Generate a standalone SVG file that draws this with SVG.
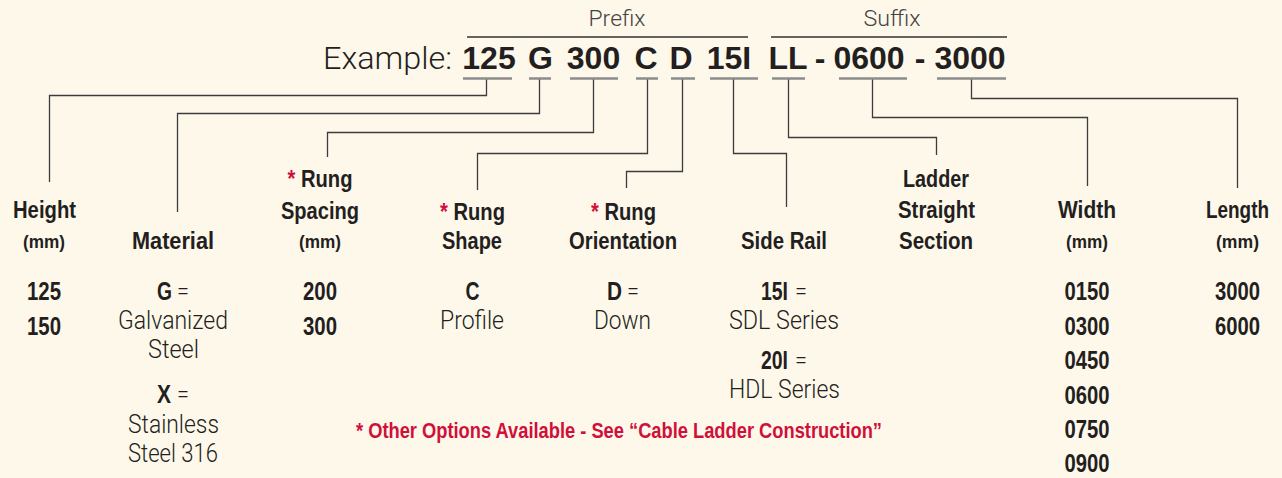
<svg xmlns="http://www.w3.org/2000/svg" width="1282" height="478" viewBox="0 0 1282 478">
<style>
text{font-family:"Liberation Sans",Arial,sans-serif;fill:#231f20}
.b{font-weight:bold}
.lt{font-family:Roboto,"Liberation Sans",Arial,sans-serif;font-weight:300}
.lbl{font-size:23px;font-weight:bold;text-anchor:middle}
.mm{font-size:18px;font-weight:bold;text-anchor:middle}
.num{font-size:25.5px;font-weight:bold;text-anchor:middle}
.key{font-size:25.5px;font-weight:bold}
.eq{font-size:26px;font-family:Roboto,"Liberation Sans",Arial,sans-serif;font-weight:300}
.reg{font-size:26px;text-anchor:middle;font-family:Roboto,"Liberation Sans",Arial,sans-serif;font-weight:300}
.code{font-size:32px;font-weight:bold;text-anchor:middle}
.hdr{font-size:22px;fill:#444;text-anchor:middle}
.red{fill:#d0103a}
.ul{stroke:#8c8c8c;stroke-width:2.5;fill:none}
.bar{stroke:#333;stroke-width:1.3;fill:none}
.con{stroke:#3c3c3c;stroke-width:1.3;fill:none}
</style>
<rect width="1282" height="478" fill="#fef8eb"/>

<g id="header">
  <text class="lt hdr" x="617" y="26" textLength="57" lengthAdjust="spacingAndGlyphs">Prefix</text>
  <text class="lt hdr" x="892" y="26" textLength="57" lengthAdjust="spacingAndGlyphs">Suffix</text>
  <line class="bar" x1="467" y1="37" x2="748" y2="37"/>
  <line class="bar" x1="771" y1="37" x2="1007" y2="37"/>
  <text class="lt" x="323" y="69" font-size="32" textLength="129" lengthAdjust="spacingAndGlyphs">Example:</text>
  <text class="code" x="489" y="69">125</text>
  <text class="code" x="540.5" y="69">G</text>
  <text class="code" x="593.5" y="69">300</text>
  <text class="code" x="646" y="69">C</text>
  <text class="code" x="681" y="69">D</text>
  <text class="code" x="729" y="69">15I</text>
  <text class="code" x="788" y="69">LL</text>
  <text class="code" x="820" y="69">-</text>
  <text class="code" x="869" y="69">0600</text>
  <text class="code" x="920" y="69">-</text>
  <text class="code" x="970" y="69">3000</text>
  <g class="ul">
    <line x1="463" y1="78.5" x2="512" y2="78.5"/>
    <line x1="529" y1="78.5" x2="551" y2="78.5"/>
    <line x1="570" y1="78.5" x2="618" y2="78.5"/>
    <line x1="636" y1="78.5" x2="658" y2="78.5"/>
    <line x1="671" y1="78.5" x2="695" y2="78.5"/>
    <line x1="710" y1="78.5" x2="758" y2="78.5"/>
    <line x1="772" y1="78.5" x2="805" y2="78.5"/>
    <line x1="839" y1="78.5" x2="907" y2="78.5"/>
    <line x1="937" y1="78.5" x2="1006" y2="78.5"/>
  </g>
</g>

<g id="connectors" class="con">
  <path d="M486.5,79.5 V95.5 H49.5 V182"/>
  <path d="M539.5,79.5 V113.5 H177.5 V212"/>
  <path d="M593.5,79.5 V132.5 H327.5 V157"/>
  <path d="M647.5,79.5 V153.5 H477.5 V190"/>
  <path d="M682.5,79.5 V171.5 H626.5 V188"/>
  <path d="M733.5,79.5 V153.5 H786.5 V207"/>
  <path d="M788.5,79.5 V137.5 H936.5 V155"/>
  <path d="M872.5,79.5 V117.5 H1087.5 V186"/>
  <path d="M971.5,79.5 V98.5 H1237.5 V188"/>
</g>

<g id="node-height">
  <text class="lbl" x="44.5" y="218" textLength="63" lengthAdjust="spacingAndGlyphs">Height</text>
  <text class="mm" x="44" y="248" textLength="42" lengthAdjust="spacingAndGlyphs">(mm)</text>
  <text class="num" x="44" y="300" textLength="34" lengthAdjust="spacingAndGlyphs">125</text>
  <text class="num" x="44" y="335" textLength="34" lengthAdjust="spacingAndGlyphs">150</text>
</g>

<g id="node-material">
  <text class="lbl" x="173" y="249" textLength="82" lengthAdjust="spacingAndGlyphs">Material</text>
  <text class="key" x="157" y="300" textLength="15" lengthAdjust="spacingAndGlyphs">G</text>
  <text class="eq" x="177" y="300" textLength="12" lengthAdjust="spacingAndGlyphs">=</text>
  <text class="reg" x="173" y="329" textLength="110" lengthAdjust="spacingAndGlyphs">Galvanized</text>
  <text class="reg" x="173.5" y="358" textLength="51" lengthAdjust="spacingAndGlyphs">Steel</text>
  <text class="key" x="157" y="403" textLength="14" lengthAdjust="spacingAndGlyphs">X</text>
  <text class="eq" x="177" y="403" textLength="12" lengthAdjust="spacingAndGlyphs">=</text>
  <text class="reg" x="173.5" y="433" textLength="91" lengthAdjust="spacingAndGlyphs">Stainless</text>
  <text class="reg" x="173" y="462" textLength="90" lengthAdjust="spacingAndGlyphs">Steel 316</text>
</g>

<g id="node-spacing">
  <text class="lbl" x="320" y="187" textLength="65" lengthAdjust="spacingAndGlyphs"><tspan class="red">*</tspan> Rung</text>
  <text class="lbl" x="320" y="219" textLength="78" lengthAdjust="spacingAndGlyphs">Spacing</text>
  <text class="mm" x="320" y="248" textLength="42" lengthAdjust="spacingAndGlyphs">(mm)</text>
  <text class="num" x="320" y="300" textLength="34" lengthAdjust="spacingAndGlyphs">200</text>
  <text class="num" x="320" y="335" textLength="34" lengthAdjust="spacingAndGlyphs">300</text>
</g>

<g id="node-shape">
  <text class="lbl" x="472.5" y="220" textLength="65" lengthAdjust="spacingAndGlyphs"><tspan class="red">*</tspan> Rung</text>
  <text class="lbl" x="472" y="249" textLength="60" lengthAdjust="spacingAndGlyphs">Shape</text>
  <text class="num" x="472.5" y="300" textLength="14" lengthAdjust="spacingAndGlyphs">C</text>
  <text class="reg" x="472" y="329" textLength="64" lengthAdjust="spacingAndGlyphs">Profile</text>
</g>

<g id="node-orientation">
  <text class="lbl" x="623.5" y="220" textLength="65" lengthAdjust="spacingAndGlyphs"><tspan class="red">*</tspan> Rung</text>
  <text class="lbl" x="623" y="249" textLength="108" lengthAdjust="spacingAndGlyphs">Orientation</text>
  <text class="key" x="607" y="300" textLength="15" lengthAdjust="spacingAndGlyphs">D</text>
  <text class="eq" x="627" y="300" textLength="12" lengthAdjust="spacingAndGlyphs">=</text>
  <text class="reg" x="622.5" y="329" textLength="57" lengthAdjust="spacingAndGlyphs">Down</text>
</g>

<g id="node-siderail">
  <text class="lbl" x="784" y="249" textLength="86" lengthAdjust="spacingAndGlyphs">Side Rail</text>
  <text class="key" x="761" y="300" textLength="27" lengthAdjust="spacingAndGlyphs">15I</text>
  <text class="eq" x="795" y="300" textLength="12" lengthAdjust="spacingAndGlyphs">=</text>
  <text class="reg" x="784" y="329" textLength="110" lengthAdjust="spacingAndGlyphs">SDL Series</text>
  <text class="key" x="761" y="369" textLength="27" lengthAdjust="spacingAndGlyphs">20I</text>
  <text class="eq" x="795" y="369" textLength="12" lengthAdjust="spacingAndGlyphs">=</text>
  <text class="reg" x="784.5" y="398" textLength="111" lengthAdjust="spacingAndGlyphs">HDL Series</text>
</g>

<g id="node-ladder">
  <text class="lbl" x="936" y="187" textLength="66" lengthAdjust="spacingAndGlyphs">Ladder</text>
  <text class="lbl" x="936.5" y="218" textLength="77" lengthAdjust="spacingAndGlyphs">Straight</text>
  <text class="lbl" x="936" y="249" textLength="74" lengthAdjust="spacingAndGlyphs">Section</text>
</g>

<g id="node-width">
  <text class="lbl" x="1087" y="218" textLength="58" lengthAdjust="spacingAndGlyphs">Width</text>
  <text class="mm" x="1087" y="248" textLength="42" lengthAdjust="spacingAndGlyphs">(mm)</text>
  <text class="num" x="1087" y="300" textLength="45" lengthAdjust="spacingAndGlyphs">0150</text>
  <text class="num" x="1087" y="335" textLength="45" lengthAdjust="spacingAndGlyphs">0300</text>
  <text class="num" x="1087" y="369" textLength="45" lengthAdjust="spacingAndGlyphs">0450</text>
  <text class="num" x="1087" y="404" textLength="45" lengthAdjust="spacingAndGlyphs">0600</text>
  <text class="num" x="1087" y="438" textLength="45" lengthAdjust="spacingAndGlyphs">0750</text>
  <text class="num" x="1087" y="472" textLength="45" lengthAdjust="spacingAndGlyphs">0900</text>
</g>

<g id="node-length">
  <text class="lbl" x="1237.5" y="218" textLength="63" lengthAdjust="spacingAndGlyphs">Length</text>
  <text class="mm" x="1237.5" y="248" textLength="43" lengthAdjust="spacingAndGlyphs">(mm)</text>
  <text class="num" x="1237.5" y="300" textLength="45" lengthAdjust="spacingAndGlyphs">3000</text>
  <text class="num" x="1237.5" y="335" textLength="45" lengthAdjust="spacingAndGlyphs">6000</text>
</g>

<g id="footnote">
  <text class="red b" x="356" y="438" font-size="22" textLength="526" lengthAdjust="spacingAndGlyphs">* Other Options Available - See “Cable Ladder Construction”</text>
</g>
</svg>
